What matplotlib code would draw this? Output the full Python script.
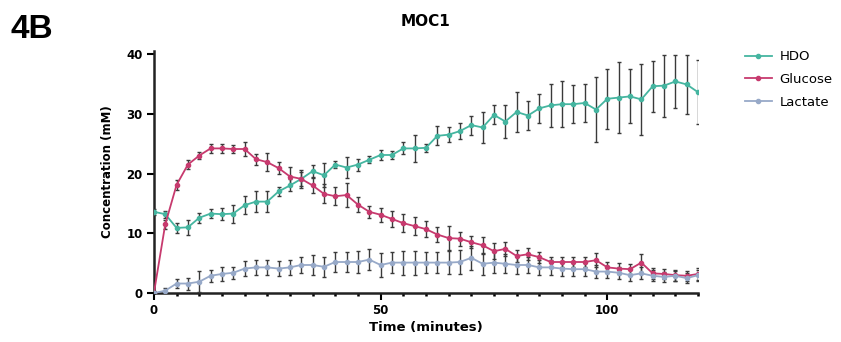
import numpy as np
import matplotlib
matplotlib.use('Agg')
import matplotlib.pyplot as plt

# tiempos (minutos), un punto cada 2.5 min
time = np.arange(0, 120.1, 2.5)

hdo = [13.6, 13.2, 10.9, 11.0, 12.6, 13.3, 13.2, 13.3, 14.7, 15.3, 15.3, 17.0,
       18.0, 19.1, 20.4, 19.7, 21.5, 21.0, 21.5, 22.3, 23.1, 23.1, 24.2, 24.2,
       24.3, 26.3, 26.5, 27.1, 28.1, 27.7, 29.8, 28.7, 30.3, 29.7, 30.9, 31.4,
       31.6, 31.6, 31.8, 30.7, 32.5, 32.7, 32.9, 32.4, 34.6, 34.7, 35.4, 34.9, 33.6]
hdo_err = [0.5, 0.6, 0.8, 1.2, 0.8, 0.7, 1.0, 1.5, 1.5, 1.7, 1.7, 0.8,
           1.0, 1.2, 1.0, 2.0, 0.6, 1.7, 1.0, 0.6, 0.8, 0.7, 1.0, 2.2,
           0.7, 1.6, 1.2, 1.4, 1.6, 2.6, 1.6, 2.8, 3.4, 2.5, 2.4, 3.6,
           3.8, 3.2, 3.2, 5.4, 5.0, 6.0, 4.5, 6.0, 4.3, 5.2, 4.4, 5.0, 5.4]

glucose = [0.0, 11.5, 18.1, 21.5, 23.0, 24.2, 24.2, 24.1, 24.1, 22.4, 21.9, 20.9,
           19.5, 19.1, 18.0, 16.6, 16.2, 16.4, 14.8, 13.6, 13.1, 12.4, 11.7, 11.2,
           10.7, 9.8, 9.2, 9.1, 8.5, 8.0, 7.0, 7.4, 6.2, 6.5, 6.0, 5.2,
           5.2, 5.2, 5.2, 5.5, 4.3, 4.1, 4.0, 5.1, 3.3, 3.2, 3.0, 2.9, 3.2]
glucose_err = [0.3, 0.8, 0.8, 0.8, 0.6, 0.8, 0.8, 0.7, 1.2, 0.9, 1.5, 1.0,
               1.6, 1.5, 1.3, 1.6, 1.5, 2.0, 1.2, 1.0, 1.2, 1.4, 1.5, 1.5,
               1.4, 1.3, 2.0, 1.2, 1.0, 1.4, 1.3, 1.2, 1.0, 1.0, 0.9, 0.8,
               0.8, 0.9, 0.9, 1.2, 0.9, 0.9, 0.8, 1.5, 0.9, 0.8, 0.9, 0.8, 1.0]

lactate = [0.0, 0.4, 1.6, 1.6, 1.9, 2.9, 3.2, 3.4, 4.1, 4.3, 4.3, 4.1,
           4.3, 4.7, 4.7, 4.4, 5.2, 5.2, 5.2, 5.6, 4.7, 5.1, 5.1, 5.1,
           5.1, 5.1, 5.1, 5.2, 5.9, 4.9, 5.1, 4.9, 4.7, 4.7, 4.3, 4.3,
           4.1, 4.0, 4.0, 3.6, 3.6, 3.4, 3.0, 3.3, 2.9, 2.7, 2.9, 2.5, 3.0]
lactate_err = [0.2, 0.5, 0.8, 1.0, 1.8, 1.0, 1.2, 1.0, 1.3, 1.2, 1.3, 1.2,
               1.2, 1.4, 1.6, 1.7, 1.6, 1.7, 1.8, 1.8, 2.0, 1.8, 2.0, 2.0,
               1.8, 1.8, 1.9, 2.0, 2.0, 1.8, 1.7, 1.6, 1.5, 1.4, 1.3, 1.2,
               1.2, 1.1, 1.1, 1.1, 1.0, 1.0, 0.9, 1.0, 0.9, 0.9, 0.8, 0.8, 0.9]

plt.rcParams['font.family'] = ['DejaVu Sans']

fig = plt.figure(figsize=(8.41, 3.42), dpi=100)
ax = fig.add_axes([0.183, 0.143, 0.647, 0.708])

series = [('HDO', hdo, hdo_err, '#45b5a0'),
          ('Glucose', glucose, glucose_err, '#c73a6e'),
          ('Lactate', lactate, lactate_err, '#97a9c8')]

for name, vals, err, col in series:
    ax.errorbar(time, vals, yerr=err, color=col, ecolor='#3a3a3a', elinewidth=1.0,
                capsize=1.5, capthick=1.0, marker='o', markersize=3, linewidth=1.3,
                label=name, zorder=3)

ax.set_xlim(0, 120)
ax.set_ylim(0, 40.5)
ax.set_xticks([0, 50, 100])
ax.set_xticks(np.arange(0, 121, 5), minor=True)
ax.set_yticks([0, 10, 20, 30, 40])
for s in ['top', 'right']:
    ax.spines[s].set_visible(False)
for s in ['left', 'bottom']:
    ax.spines[s].set_linewidth(1.8)
    ax.spines[s].set_color('#222222')
ax.tick_params(axis='both', which='major', length=5, width=1.5, labelsize=8.5, pad=3)
ax.tick_params(axis='x', which='minor', length=2.5, width=1.8)
for lab in ax.get_xticklabels() + ax.get_yticklabels():
    lab.set_fontweight('bold')

ax.set_xlabel('Time (minutes)', fontsize=9.5, fontweight='bold', labelpad=3)
ax.set_ylabel('Concentration (mM)', fontsize=8.5, fontweight='bold', labelpad=9)
ax.set_title('MOC1', fontsize=11, fontweight='bold', pad=18)

handles, labels = ax.get_legend_handles_labels()
handles = [h[0] for h in handles]
fig.legend(handles, labels, loc='upper left', bbox_to_anchor=(0.872, 0.888),
           frameon=False, fontsize=9.5, handlelength=2, labelspacing=0.75,
           handletextpad=0.6)

fig.text(0.012, 0.89, '4B', fontsize=24, fontweight='bold', family='Liberation Sans')

plt.savefig('out.png', dpi=100)
